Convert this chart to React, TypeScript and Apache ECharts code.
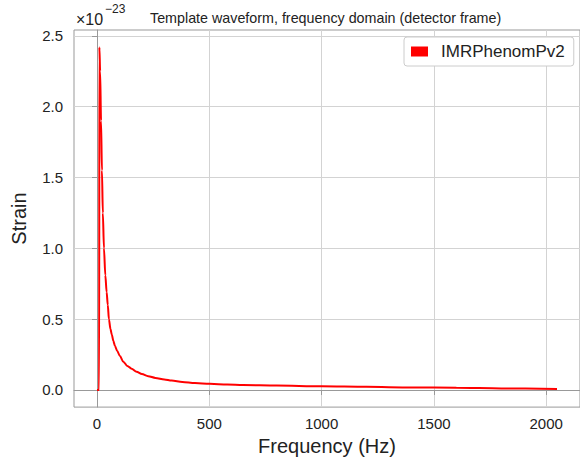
import React, { useEffect, useRef } from "react";
import * as echarts from "echarts";

const frequencyHz = [0, 5, 9.5, 10.5, 14, 18, 22, 26, 31, 37, 43, 48, 53, 60, 66, 73, 80, 90, 102, 117, 135, 154, 176, 200, 228, 260, 300, 332, 380, 436, 502, 580, 650, 800, 1000, 1200, 1400, 1600, 1800, 2048];
const strainE23 = [0, 0, 0, 2.42, 2.25, 1.9, 1.55, 1.25, 1.0, 0.81, 0.69, 0.6, 0.5, 0.43, 0.39, 0.345, 0.31, 0.275, 0.24, 0.2, 0.17, 0.15, 0.128, 0.112, 0.097, 0.085, 0.074, 0.066, 0.057, 0.049, 0.043, 0.038, 0.035, 0.031, 0.026, 0.022, 0.018, 0.015, 0.011, 0.007];
const xTicks = [0, 500, 1000, 1500, 2000];
const yTicks = [0, 0.5, 1.0, 1.5, 2.0, 2.5];
const seriesName = "IMRPhenomPv2";
const titleText = "Template waveform, frequency domain (detector frame)";

const FONT = "'Liberation Sans', Arial, Helvetica, sans-serif";

export default function App() {
  const ref = useRef<HTMLDivElement>(null);
  useEffect(() => {
    if (!ref.current) return;
    const chart = echarts.init(ref.current, undefined, { renderer: "svg" });
    const data = frequencyHz.map((f, i) => [f, strainE23[i]]);
    chart.setOption({
      animation: false,
      backgroundColor: "#ffffff",
      textStyle: { fontFamily: FONT },
      title: {
        text: titleText,
        left: 145,
        top: 6,
        textStyle: { fontFamily: FONT, fontSize: 14.3, fontWeight: "normal", color: "#222" },
      },
      graphic: [
        { type: "text", left: 76, top: 11, style: { text: "×10", fontFamily: FONT, fontSize: 16, fill: "#222" } },
        { type: "text", left: 105, top: 3, style: { text: "−23", fontFamily: FONT, fontSize: 12, fill: "#222" } },
      ],
      legend: {
        left: 404,
        top: 37,
        orient: "vertical",
        data: [{ name: seriesName, icon: "rect" }],
        itemWidth: 17,
        itemHeight: 10,
        padding: [6, 9, 6, 7],
        backgroundColor: "#fff",
        borderColor: "#cccccc",
        borderWidth: 1,
        borderRadius: 3,
        textStyle: { fontFamily: FONT, fontSize: 17, color: "#222", padding: [0, 0, 0, 8] },
      },
      grid: {
        left: 74,
        top: 30,
        width: 507,
        height: 378,
        show: true,
        borderColor: "#999",
        borderWidth: 1,
        containLabel: false,
      },
      xAxis: {
        type: "value",
        min: -102.4,
        max: 2150.4,
        name: "Frequency (Hz)",
        nameLocation: "middle",
        nameGap: 28,
        nameTextStyle: { fontFamily: FONT, fontSize: 20, color: "#222" },
        axisLine: { show: true, lineStyle: { color: "#999", width: 1 } },
        axisTick: { show: true, length: 5, inside: false, customValues: xTicks, lineStyle: { color: "#999" } },
        axisLabel: {
          customValues: xTicks,
          margin: 9,
          fontFamily: FONT,
          fontSize: 15,
          color: "#222",
          formatter: (v: number) => String(v),
        },
        splitLine: { show: true, lineStyle: { color: "#d3d3d3", width: 1 } },
      },
      yAxis: {
        type: "value",
        min: -0.121,
        max: 2.541,
        name: "Strain",
        nameLocation: "middle",
        nameGap: 45,
        nameRotate: 90,
        nameTextStyle: { fontFamily: FONT, fontSize: 20, color: "#222" },
        axisLine: { show: true, lineStyle: { color: "#999", width: 1 } },
        axisTick: { show: true, length: 5, inside: false, customValues: yTicks, lineStyle: { color: "#999" } },
        axisLabel: {
          customValues: yTicks,
          margin: 11,
          fontFamily: FONT,
          fontSize: 15,
          color: "#222",
          formatter: (v: number) => v.toFixed(1),
        },
        splitLine: { show: true, lineStyle: { color: "#d3d3d3", width: 1 } },
      },
      series: [
        {
          name: seriesName,
          type: "line",
          data,
          showSymbol: false,
          smooth: 0.3,
          smoothMonotone: "x",
          color: "#ff0000",
          lineStyle: { color: "#ff0000", width: 2 },
          z: 3,
        },
      ],
    });
    return () => chart.dispose();
  }, []);
  return (
    <div
      ref={ref}
      style={{ position: "fixed", left: 0, top: 0, width: 580, height: 461, background: "#fff" }}
    />
  );
}
